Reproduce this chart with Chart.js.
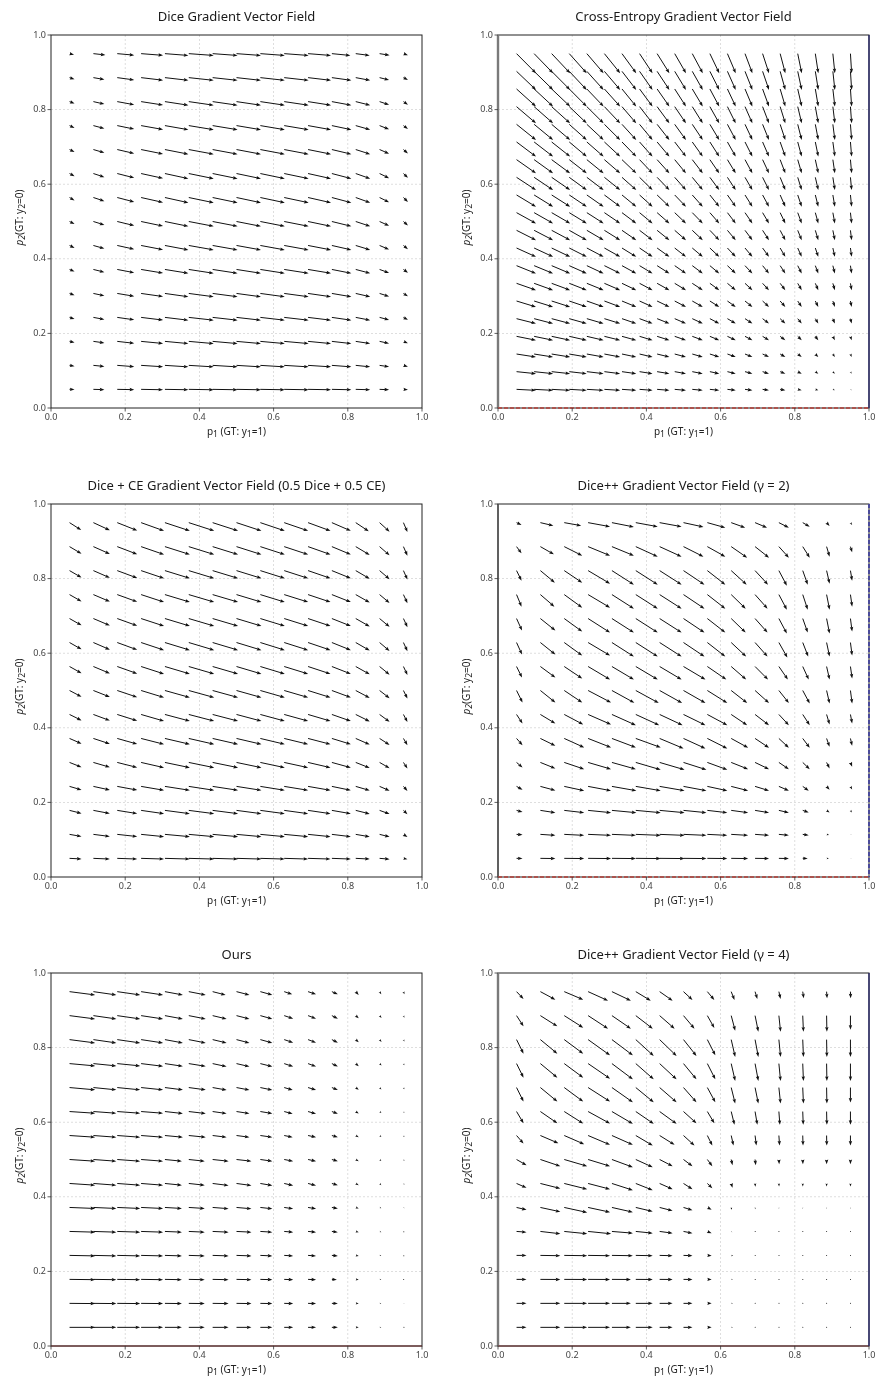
<!DOCTYPE html>
<html><head><meta charset="utf-8">
<script src="https://cdn.jsdelivr.net/npm/chart.js@4.4.0/dist/chart.umd.min.js"></script>
<style>
body{margin:0;background:#fff;width:880px;height:1382px;position:relative;overflow:hidden}
.p{position:absolute}
</style></head><body>
<div class="p" style="left:0;top:0;width:440px;height:444px"><canvas id="c1"></canvas></div>
<div class="p" style="left:447px;top:0;width:433px;height:444px"><canvas id="c2"></canvas></div>
<div class="p" style="left:0;top:469px;width:440px;height:444px"><canvas id="c3"></canvas></div>
<div class="p" style="left:447px;top:469px;width:433px;height:444px"><canvas id="c4"></canvas></div>
<div class="p" style="left:0;top:938px;width:440px;height:444px"><canvas id="c5"></canvas></div>
<div class="p" style="left:447px;top:938px;width:433px;height:444px"><canvas id="c6"></canvas></div>
<script>
// ---------- DATA ----------
const axisTicks = [0, 0.2, 0.4, 0.6, 0.8, 1.0];
const titles = [
  "Dice Gradient Vector Field",
  "Cross-Entropy Gradient Vector Field",
  "Dice + CE Gradient Vector Field (0.5 Dice + 0.5 CE)",
  "Dice++ Gradient Vector Field (\u03b3 = 2)",
  "Ours",
  "Dice++ Gradient Vector Field (\u03b3 = 4)"
];
const xLabel = [["p",0,0],["1",1,0],[" (GT: y",0,0],["1",1,0],["=1)",0,0]];
const yLabel = [["p",0,1],["2",1,1],["(GT: y",0,0],["2",1,0],["=0)",0,0]];

// grid positions (p1 along x, p2 along y)
const grid15 = [0.05,0.1143,0.1786,0.2429,0.3071,0.3714,0.4357,0.5,0.5643,0.6286,0.6929,0.7571,0.8214,0.8857,0.95];
const grid20 = [0.05,0.0974,0.1447,0.1921,0.2395,0.2868,0.3342,0.3816,0.4289,0.4763,0.5237,0.5711,0.6184,0.6658,0.7132,0.7605,0.8079,0.8553,0.9026,0.95];

// vector components (rows: p2 from bottom to top, columns: p1 left to right)
const diceU = [
 [5,11,17,22,23.5,25,25,24.5,24.5,24.5,23,19.5,14.5,9.5,4.5],
 [5,11,17,22,23.5,25,25,24.5,24.5,24.5,23,19.5,14.5,9.5,4.5],
 [5,11,17,22,23.5,25,25,24.5,24.5,24.5,23,19.5,14.5,9.5,4.5],
 [5,11,17,22,23.5,25,25,24.5,24.5,24.5,23,19.5,14.5,9.5,4.5],
 [5,11,17,22,23.5,25,25,24.5,24.5,24.5,23,19.5,14.5,9.5,4.5],
 [5,11,17,22,23.5,25,25,24.5,24.5,24.5,23,19.5,14.5,9.5,4.5],
 [5,11,17,22,23.5,25,25,24.5,24.5,24.5,23,19.5,14.5,9.5,4.5],
 [5,11,17,22,23.5,25,25,24.5,24.5,24.5,23,19.5,14.5,9.5,4.5],
 [5,11,17,22,23.5,25,25,24.5,24.5,24.5,23,19.5,14.5,9.5,4.5],
 [5,11,17,22,23.5,25,25,24.5,24.5,24.5,23,19.5,14.5,9.5,4.5],
 [5,11,17,22,23.5,25,25,24.5,24.5,24.5,23,19.5,14.5,9.5,4.5],
 [5,11,17,22,23.5,25,25,24.5,24.5,24.5,23,19.5,14.5,9.5,4.5],
 [5,11,17,22,23.5,25,25,24.5,24.5,24.5,23,19.5,14.5,9.5,4.5],
 [5,11,17,22,23.5,25,25,24.5,24.5,24.5,23,19.5,14.5,9.5,4.5],
 [4.5,12,17,22,23.5,25,25,24.5,24.5,24.5,23,18.5,14,10,4.5]
];
const diceV = [
 [-0.2,-0.3,-0.3,-0.4,-0.4,-0.4,-0.4,-0.4,-0.4,-0.4,-0.4,-0.4,-0.4,-0.4,-0.3],
 [-0.8,-1.1,-1.3,-1.4,-1.5,-1.5,-1.5,-1.5,-1.5,-1.5,-1.5,-1.5,-1.5,-1.4,-1.3],
 [-1.2,-1.5,-1.9,-2.1,-2.2,-2.2,-2.2,-2.2,-2.2,-2.2,-2.2,-2.2,-2.2,-2,-1.9],
 [-1.5,-2,-2.4,-2.7,-2.8,-2.8,-2.8,-2.8,-2.8,-2.8,-2.8,-2.8,-2.8,-2.5,-2.4],
 [-1.8,-2.3,-2.8,-3.1,-3.3,-3.3,-3.3,-3.3,-3.3,-3.3,-3.3,-3.3,-3.3,-3,-2.8],
 [-2.1,-2.7,-3.2,-3.6,-3.8,-3.8,-3.8,-3.8,-3.8,-3.8,-3.8,-3.8,-3.8,-3.4,-3.2],
 [-2.4,-3.1,-3.7,-4.2,-4.4,-4.4,-4.4,-4.4,-4.4,-4.4,-4.4,-4.4,-4.4,-4,-3.7],
 [-2.6,-3.4,-4.1,-4.6,-4.8,-4.8,-4.8,-4.8,-4.8,-4.8,-4.8,-4.8,-4.8,-4.3,-4.1],
 [-2.9,-3.6,-4.4,-4.9,-5.2,-5.2,-5.2,-5.2,-5.2,-5.2,-5.2,-5.2,-5.2,-4.7,-4.4],
 [-2.8,-3.6,-4.3,-4.8,-5.1,-5.1,-5.1,-5.1,-5.1,-5.1,-5.1,-5.1,-5.1,-4.6,-4.3],
 [-2.5,-3.2,-3.9,-4.4,-4.6,-4.6,-4.6,-4.6,-4.6,-4.6,-4.6,-4.6,-4.6,-4.1,-3.9],
 [-2.3,-2.9,-3.5,-3.9,-4.1,-4.1,-4.1,-4.1,-4.1,-4.1,-4.1,-4.1,-4.1,-3.7,-3.5],
 [-2,-2.5,-3.1,-3.4,-3.6,-3.6,-3.6,-3.6,-3.6,-3.6,-3.6,-3.6,-3.6,-3.2,-3.1],
 [-1.5,-1.9,-2.3,-2.6,-2.7,-2.7,-2.7,-2.7,-2.7,-2.7,-2.7,-2.7,-2.7,-2.4,-2.3],
 [-1,-1.3,-1.5,-1.7,-1.8,-1.8,-1.8,-1.8,-1.8,-1.8,-1.8,-1.8,-1.8,-1.6,-1.5]
];
// Cross-entropy: horizontal part read per column, vertical part read per row
const ceU = [19.5,19,18.5,17.5,16.8,15.8,14.3,13,12.3,11.3,10.5,9.4,8.3,7.4,6.4,5.2,4,3,2,1.2];
const ceV = [-1,-2,-3,-3.9,-4.9,-5.9,-6.8,-7.8,-8.8,-9.8,-10.7,-11.7,-12.7,-13.6,-14.6,-15.6,-16.6,-17.5,-18.5,-19.5];

const mixU = [
 [12,16.5,20,23,25,25.5,25.5,25,24.5,24,22.5,19,14,10,4],
 [12,16.5,20,23,25,25.5,25.5,25,24.5,24,22.5,19,14,10,4],
 [12,16.5,20,23,25,25.5,25.5,25,24.5,24,22.5,19,14,10,4],
 [12,16.5,20,23,25,25.5,25.5,25,24.5,24,22.5,19,14,10,4],
 [12,16.5,20,23,25,25.5,25.5,25,24.5,24,22.5,19,14,10,4],
 [12,16.5,20,23,25,25.5,25.5,25,24.5,24,22.5,19,14,10,4],
 [12,16.5,20,23,25,25.5,25.5,25,24.5,24,22.5,19,14,10,4],
 [12,16.5,20,23,25,25.5,25.5,25,24.5,24,22.5,19,14,10,4],
 [12,16.5,20,23,25,25.5,25.5,25,24.5,24,22.5,19,14,10,4],
 [12,16.5,20,23,25,25.5,25.5,25,24.5,24,22.5,19,14,10,4],
 [12,16.5,20,23,25,25.5,25.5,25,24.5,24,22.5,19,14,10,4],
 [12,16.5,20,23,25,25.5,25.5,25,24.5,24,22.5,19,14,10,4],
 [12,16.5,20,23,25,25.5,25.5,25,24.5,24,22.5,19,14,10,4],
 [12,16.5,20,23,25,25.5,25.5,25,24.5,24,22.5,19,14,10,4],
 [11.7,16.5,20,23,25,25.5,25.5,25,24.5,24,22.5,19,13,10,4]
];
const mixV = [
 [-0.6,-0.7,-0.7,-0.7,-0.7,-0.7,-0.7,-0.7,-0.7,-0.7,-0.7,-0.7,-0.7,-0.8,-0.8],
 [-2.1,-2.1,-2.2,-2.3,-2.3,-2.3,-2.3,-2.3,-2.3,-2.3,-2.3,-2.3,-2.4,-2.5,-2.6],
 [-3,-3.1,-3.2,-3.3,-3.3,-3.3,-3.3,-3.3,-3.3,-3.3,-3.3,-3.3,-3.5,-3.6,-3.8],
 [-3.5,-3.6,-3.7,-3.9,-3.9,-3.9,-3.9,-3.9,-3.9,-3.9,-3.9,-3.9,-4.1,-4.3,-4.5],
 [-4.7,-4.8,-5,-5.2,-5.2,-5.2,-5.2,-5.2,-5.2,-5.2,-5.2,-5.2,-5.5,-5.7,-6],
 [-5.2,-5.4,-5.6,-5.8,-5.8,-5.8,-5.8,-5.8,-5.8,-5.8,-5.8,-5.8,-6.1,-6.4,-6.7],
 [-5.9,-6.1,-6.3,-6.6,-6.6,-6.6,-6.6,-6.6,-6.6,-6.6,-6.6,-6.6,-6.9,-7.3,-7.6],
 [-6.3,-6.5,-6.7,-7,-7,-7,-7,-7,-7,-7,-7,-7,-7.4,-7.7,-8.1],
 [-6.7,-6.9,-7.1,-7.4,-7.4,-7.4,-7.4,-7.4,-7.4,-7.4,-7.4,-7.4,-7.8,-8.1,-8.5],
 [-6.8,-7.1,-7.3,-7.6,-7.6,-7.6,-7.6,-7.6,-7.6,-7.6,-7.6,-7.6,-8,-8.4,-8.7],
 [-6.8,-7,-7.2,-7.5,-7.5,-7.5,-7.5,-7.5,-7.5,-7.5,-7.5,-7.5,-7.9,-8.3,-8.6],
 [-6.8,-7,-7.2,-7.5,-7.5,-7.5,-7.5,-7.5,-7.5,-7.5,-7.5,-7.5,-7.9,-8.3,-8.6],
 [-6.9,-7.2,-7.4,-7.7,-7.7,-7.7,-7.7,-7.7,-7.7,-7.7,-7.7,-7.7,-8.1,-8.5,-8.9],
 [-7.1,-7.3,-7.6,-7.9,-7.9,-7.9,-7.9,-7.9,-7.9,-7.9,-7.9,-7.9,-8.3,-8.7,-9.1],
 [-7.4,-7.6,-7.9,-8.2,-8.2,-8.2,-8.2,-8.2,-8.2,-8.2,-8.2,-8.2,-8.6,-9,-9.4]
];
const dpp2U = [
 [6,15,20,23,24,25,25,23,20,17,14,10,5,2.3,1],
 [6,15,20,23,24,25,25,23,20,17,14,10,6,2.5,1],
 [6,15,20,23,24.5,25,25,23,20,17,14,10,6,3,1.5],
 [6,15,20,23,24.5,25,25,23,20,17,14,10,6,3,1.7],
 [6,15,20,23,24,25,25,23,20,17,14,10,7,3,1.7],
 [6,15,20,23,24,25,24,22,20,17,14,10,7,3,1.7],
 [6,15,19,23,24,23.5,23,22,20,16,14,10,7,3,1.7],
 [6,15,18,23,22.5,23,22.5,22,20,16,14,10,7,3,1.7],
 [5.5,15,18,22,22,22,22,22,19,15,13,9,6,3,1.7],
 [5.5,15,18,22,22,22,22,21,18,15,12.5,8.5,5.5,3,1.7],
 [5.5,15,18,22,22,22,22,21,18,14.5,12.5,8,5,3,1.7],
 [5,14,18,22,22,22,22,21,18,14.5,12.5,8,5,3,1.7],
 [5,14.5,18,22,22,22,22,21,18,15.5,13,8,5,3,1.7],
 [5,13.5,18,22,22,22,22,20,18,16,14,10,7,3,1.7],
 [5,13,17,22,22,22,22,20,18,14,12,10,7,3,1.7]
];
const dpp2V = [
 [-0.1,-0.2,-0.2,-0.2,-0.2,-0.2,-0.2,-0.2,-0.2,-0.2,-0.2,-0.2,-0.2,-0.1,-0.1],
 [-0.5,-1,-1,-1,-1,-1,-1,-1,-1,-1,-1,-1,-1,-0.7,-0.5],
 [-1.7,-2.3,-2.3,-2.3,-2.3,-2.3,-2.3,-2.3,-2.3,-2.3,-2.3,-2.3,-2,-2,-2],
 [-3.3,-4,-4.3,-4.3,-4.3,-4.3,-4.3,-4.3,-4.3,-4.3,-4.3,-4.3,-4.3,-3.3,-3],
 [-5,-6,-6.7,-6.7,-6.7,-7.3,-7.3,-7.3,-7.3,-6.7,-6.7,-6.7,-6.7,-6,-4.3],
 [-6.7,-7.3,-9,-9,-9,-9,-10,-10,-10,-9.3,-9.3,-9.3,-9.3,-8.3,-7.3],
 [-9,-9,-10,-10,-10.7,-10.7,-10.7,-10.7,-10.7,-10.7,-10.7,-10.7,-10.7,-10,-9],
 [-12,-12,-12,-12,-12.3,-12.5,-12.5,-12.5,-12.5,-12.5,-12.5,-12.5,-13,-13,-13],
 [-11,-11,-12,-13,-13,-13,-13,-13,-13,-13,-13,-13,-13,-13,-12],
 [-12,-12,-13,-13,-14,-14,-14,-14,-14,-14,-14,-15,-14,-14,-13],
 [-12,-12,-13,-14,-14,-14,-14,-14,-14,-14,-14,-15,-14,-15,-13],
 [-12,-12,-13,-13,-14,-14,-14,-14,-14,-14,-14,-15,-15,-15,-12],
 [-10,-12,-12,-13,-14,-14,-14,-14,-14,-14,-14,-15,-14,-13,-10],
 [-6.7,-7.7,-9,-9,-9,-10,-10,-10,-10,-11,-11,-11,-11,-10,-5.7],
 [-2.3,-3,-3,-4,-4.3,-4,-4,-4.3,-5,-5,-5,-5,-4,-3.3,-2.3]
];
const oursU = [
 [25.7,23,23,22,17,16,16,15,12,9,8,6,3,1.7,1],
 [25.7,23,23,22,17,16,16,15,12,9,8,6,3,1.7,1],
 [25.7,23,23,22,17,16,16,15,12,9,8,5,3,1.7,0.5],
 [25.7,23,23,22,17,16,16,15,12,9,8,6,3,1.7,0.7],
 [25.7,23,23,22,17,16,16,15,12,9,8,6,3,1.7,0.7],
 [25.7,23,23,22,17,16,16,15,12,9,8,6,3,1.7,1],
 [25.7,23,23,22,17,16,16,15,12,9,8,6,3,1.7,1],
 [25.7,23,23,22,17,16,16,15,12,9,8,6,3,1.7,1],
 [25.7,23,23,22,18,17,14,13,12,8.5,8,6,3,1.8,1],
 [25.7,23,23,22,18,17,14,13,12,8.5,8,6,3,1.8,1],
 [25.7,23,23,22,18,17,14,13,12,8.5,8,6,3,1.8,1],
 [25.7,23,23,22,18,17,14,13,12,9,8,6,3,2,1],
 [25.7,23,23,22,18,17,14,13,12,9,8,6,3,2,1],
 [25.7,23,23,22,18,17,14,13,12,9,8,6,3,2,1],
 [25.7,23,23,22,18,17,13,13,12,8,8,6,3,1.7,1]
];
const oursV = [
 [0,0,0,0,0,0,0,0,0,0,0,0,0,0,0],
 [-0.2,-0.2,-0.2,-0.2,-0.2,-0.2,-0.2,-0.2,-0.2,-0.2,-0.2,-0.2,-0.2,-0.2,-0.2],
 [-0.3,-0.3,-0.3,-0.3,-0.3,-0.3,-0.3,-0.3,-0.3,-0.3,-0.3,-0.3,-0.3,-0.3,-0.3],
 [-0.5,-0.5,-0.5,-0.5,-0.5,-0.5,-0.5,-0.5,-0.5,-0.5,-0.5,-0.5,-0.5,-0.5,-0.5],
 [-0.7,-0.7,-0.7,-0.7,-0.7,-0.7,-0.7,-0.7,-0.7,-0.7,-0.7,-0.7,-0.7,-0.7,-0.7],
 [-1,-1,-1,-1,-1,-1,-1.2,-1.3,-1.3,-1.3,-1.3,-1,-1,-0.8,-0.7],
 [-1.7,-1.7,-1.7,-1.7,-1.7,-1.7,-2,-2,-2,-2,-2,-1.7,-1.7,-1.7,-1.3],
 [-1.7,-1.7,-1.7,-1.7,-1.7,-1.7,-1.7,-1.7,-1.7,-1.7,-1.7,-1.7,-1.7,-1.4,-1.4],
 [-1.7,-1.7,-1.7,-1.7,-1.7,-1.7,-1.7,-1.7,-1.7,-1.7,-1.7,-1.7,-1.7,-1.4,-1.4],
 [-1.7,-1.7,-1.7,-1.7,-2,-2,-2,-2,-2,-2.3,-2.3,-2.3,-2,-1.5,-1.3],
 [-2.3,-2.3,-2.3,-2.3,-2.3,-2.3,-2.5,-2.5,-2.5,-2.5,-2.5,-2.5,-2.3,-1.9,-1.7],
 [-2.3,-2.3,-2.3,-2.7,-2.7,-2.7,-3,-3,-3,-3,-3,-3,-2.7,-2,-1.7],
 [-3.3,-3.3,-3.3,-3.3,-3.3,-3.3,-3.3,-3.3,-3.3,-3,-3,-3,-2.7,-2.3,-2],
 [-3.3,-3.3,-3.3,-3.3,-3.3,-3.3,-3.3,-3.3,-3.3,-3,-3,-3,-2.7,-2.3,-2],
 [-3.3,-3.3,-3.3,-3.3,-3.3,-3.3,-3.3,-3.3,-3.3,-2.7,-2.7,-2.7,-3.3,-2.7,-2.7]
];
const dpp4U = [
 [10,20,23,22,19,17,13,9,4.3,1.7,0.3,0.2,0.1,0.1,0.1],
 [10,20,23,22,19,17,13,9,4.3,1.7,0.3,0.2,0.1,0.1,0.1],
 [10,20,23,22,19,17,13,9,4.3,1.7,0.3,0.2,0.1,0.1,0.1],
 [10,20,23,22,21,17,13,9,4.3,2,0.3,0.2,0.1,0.1,0.1],
 [10,20,23,23,21,17,13,9,4.3,1,0.3,0.1,0.1,0.1,0.1],
 [10,20,23,22,21,17,13,9,4.3,0.7,0.3,0.1,0,0,0],
 [10,20,23,22,21,17,13,9,5,1.3,0.3,0.2,0.1,0,0],
 [10,20,23,22,21,17,13,9,5,1.3,0.7,0.3,0.2,0.1,0],
 [7,18,20,22,21,17,15,11,5,2.3,1.3,0.7,0.3,0.2,0],
 [7,17,19,22,21,18,17,13,7,3.3,2.3,1,0.5,0.3,0],
 [7,17,19,22,21,18,17,13,8,4,3.3,1.7,0.7,0.3,0],
 [7,17,19,22,21,18,17,13,8,4,3.3,1.7,0.7,0.3,0],
 [7,17,19,22,21,18,17,13,8,4,3.3,1.7,0.7,0.3,0],
 [7,17,19,20,19,17,15,11,7,4,3.3,1.7,0.7,0.3,0],
 [7,15,19,20,19,15,13,9,7,3.3,2.3,1.7,1,0.5,0.2]
];
const dpp4V = [
 [0,0,0,0,0,0,0,0,0,0,0,0,0,0,0],
 [0,0,0,0,0,0,0,0,0,0,0,0,0,0,0],
 [0,-0.1,-0.1,-0.1,-0.1,-0.1,-0.1,-0.1,-0.1,-0.1,-0.1,-0.1,-0.1,-0.1,-0.1],
 [0,-0.3,-0.3,-0.3,-0.3,-0.3,-0.3,-0.3,-0.3,-0.3,-0.3,-0.3,-0.3,-0.3,-0.3],
 [-0.7,-2.3,-2.3,-2.3,-1.7,-1.7,-1.7,-1.7,-1.7,-0.7,-0.3,-0.2,-0.2,-0.2,-0.2],
 [-2.3,-4.3,-5,-4.7,-4.7,-4,-3.3,-2.7,-2.3,-2.3,-1.7,-1.3,-1.3,-1.3,-1.3],
 [-4.3,-5,-5.7,-5.7,-6.7,-6.7,-5.7,-5.7,-4.7,-4.3,-3.3,-3,-3,-3,-3],
 [-5.7,-6.7,-6.7,-6.7,-7.7,-7.7,-6.7,-6.7,-6.7,-5.7,-5.7,-4.7,-4.7,-4.7,-4.7],
 [-8,-7.7,-8.7,-9.3,-9.3,-10,-9.3,-10,-10,-10,-10,-10,-10,-10,-10],
 [-11.7,-11.7,-12,-12,-12.3,-12.3,-12.3,-11.7,-11.7,-13.3,-13.3,-13.3,-13.3,-13.3,-13.3],
 [-14,-14,-14,-14,-14.7,-14.7,-14.7,-14.7,-14.7,-16,-16,-16,-16,-16,-15],
 [-14,-14,-14,-15,-15.7,-15.7,-15.7,-15.7,-15.7,-17.3,-17.3,-17.3,-17.3,-17.3,-17.3],
 [-14,-14,-14,-15.7,-15.7,-16.3,-16.3,-16.3,-15.7,-17.3,-17.3,-17.3,-17.3,-17.3,-17.3],
 [-10.7,-10.7,-12,-13,-13,-13,-13,-13,-12.3,-15,-16,-16,-16,-16,-14],
 [-7.3,-8,-8,-9,-9,-9,-9,-8.3,-8.3,-8.3,-7.3,-7.3,-6.7,-6.7,-6.7]
];

// ---------- RENDERING ----------
Chart.defaults.font.family = "'Noto Sans', 'Open Sans', sans-serif";

function buildPoints(grid, U, V) {
  const pts = [];
  grid.forEach((py, r) => grid.forEach((px, c) => pts.push({x: px, y: py, u: U[r][c], v: V[r][c]})));
  return pts;
}
const ceU2 = grid20.map(() => ceU);
const ceV2 = ceV.map(v => grid20.map(() => v));

function richText(ctx, segs, cx, cy, size) {
  const fnt = s => (s[2] ? 'italic ' : '') + (s[1] ? size * 0.86 : size) + "px 'Noto Sans'";
  let w = 0;
  for (const s of segs) { ctx.font = fnt(s); w += ctx.measureText(s[0]).width; }
  let x = cx - w / 2;
  ctx.textAlign = 'left'; ctx.textBaseline = 'middle';
  for (const s of segs) {
    ctx.font = fnt(s);
    ctx.fillText(s[0], x, cy + (s[1] ? size * 0.25 : 0));
    x += ctx.measureText(s[0]).width;
  }
}

const quiverPlugin = {
  id: 'quiver',
  beforeDatasetsDraw(chart, args, o) {
    const {ctx, chartArea: a, scales: {x, y}} = chart;
    ctx.save();
    ctx.strokeStyle = '#d6d6d6'; ctx.lineWidth = 0.8; ctx.setLineDash([2, 2]);
    for (const t of x.ticks) {
      if (t.value > 0.001 && t.value < 0.999) {
        const p = x.getPixelForValue(t.value);
        ctx.beginPath(); ctx.moveTo(p, a.top); ctx.lineTo(p, a.bottom); ctx.stroke();
      }
    }
    for (const t of y.ticks) {
      if (t.value > 0.001 && t.value < 0.999) {
        const p = y.getPixelForValue(t.value);
        ctx.beginPath(); ctx.moveTo(a.left, p); ctx.lineTo(a.right, p); ctx.stroke();
      }
    }
    ctx.restore();
  },
  afterDatasetsDraw(chart, args, o) {
    const {ctx, chartArea: a, scales: {x, y}} = chart;
    const pts = chart.data.datasets[0].data;
    ctx.save();
    ctx.beginPath(); ctx.rect(a.left, a.top, a.right - a.left, a.bottom - a.top); ctx.clip();
    ctx.fillStyle = o.color; ctx.strokeStyle = o.color; ctx.lineCap = 'butt';
    for (const d of pts) {
      const x0 = x.getPixelForValue(d.x), y0 = y.getPixelForValue(d.y);
      const x1 = x.getPixelForValue(d.x + d.u / o.scale), y1 = y.getPixelForValue(d.y + d.v / o.scale);
      const dx = x1 - x0, dy = y1 - y0, L = Math.hypot(dx, dy);
      if (L < 1) {
        ctx.beginPath(); ctx.arc(x0 + dx / 2, y0 + dy / 2, 0.5, 0, 2 * Math.PI); ctx.fill();
        continue;
      }
      const ux = dx / L, uy = dy / L;
      const k = Math.min(1, L / o.headLength);
      const hl = o.headLength * k, hw = o.headWidth * k;
      const bx = x1 - ux * hl, by = y1 - uy * hl;
      if (L > hl + 0.3) {
        ctx.lineWidth = o.shaftWidth;
        ctx.beginPath(); ctx.moveTo(x0, y0); ctx.lineTo(bx + ux * 0.8, by + uy * 0.8); ctx.stroke();
      }
      ctx.beginPath();
      ctx.moveTo(x1, y1);
      ctx.lineTo(bx - uy * hw, by + ux * hw);
      ctx.lineTo(bx + ux * 0.6, by + uy * 0.6);
      ctx.lineTo(bx + uy * hw, by - ux * hw);
      ctx.closePath(); ctx.fill();
    }
    ctx.restore();

    // frame and tick marks
    ctx.save();
    ctx.strokeStyle = '#222'; ctx.lineWidth = 1;
    ctx.strokeRect(a.left, a.top, a.right - a.left, a.bottom - a.top);
    for (const e of (o.edges || [])) {
      ctx.save();
      ctx.strokeStyle = e.color; ctx.lineWidth = e.width; ctx.setLineDash(e.dash || []);
      ctx.beginPath();
      if (e.side === 'bottom') { ctx.moveTo(a.left, a.bottom); ctx.lineTo(a.right, a.bottom); }
      if (e.side === 'right') { ctx.moveTo(a.right, a.top); ctx.lineTo(a.right, a.bottom); }
      if (e.side === 'left') { ctx.moveTo(a.left, a.top); ctx.lineTo(a.left, a.bottom); }
      ctx.stroke();
      ctx.restore();
    }
    ctx.strokeStyle = '#333'; ctx.lineWidth = 0.8;
    for (const t of x.ticks) {
      const p = x.getPixelForValue(t.value);
      ctx.beginPath(); ctx.moveTo(p, a.bottom); ctx.lineTo(p, a.bottom + 3.5); ctx.stroke();
    }
    for (const t of y.ticks) {
      const p = y.getPixelForValue(t.value);
      ctx.beginPath(); ctx.moveTo(a.left - 3.5, p); ctx.lineTo(a.left, p); ctx.stroke();
    }
    ctx.restore();
  },
  afterDraw(chart, args, o) {
    const {ctx, chartArea: a} = chart;
    ctx.save();
    ctx.fillStyle = '#1a1a1a';
    ctx.font = "13px 'Noto Sans'"; ctx.textAlign = 'center'; ctx.textBaseline = 'middle';
    ctx.fillText(o.title, (a.left + a.right) / 2, a.top - 18);
    ctx.fillStyle = '#222';
    richText(ctx, xLabel, (a.left + a.right) / 2, a.bottom + 24, 10);
    ctx.translate(a.left - 31, (a.top + a.bottom) / 2 - 4);
    ctx.rotate(-Math.PI / 2);
    richText(ctx, yLabel, 0, 0, 10);
    ctx.restore();
  }
};

function makeChart(id, title, pts, padRight, edges) {
  const tickOpts = {font: {size: 9}, color: '#444', callback: v => Number(v).toFixed(1), autoSkip: false, maxRotation: 0};
  new Chart(document.getElementById(id), {
    type: 'scatter',
    data: {datasets: [{data: pts, pointRadius: 0, pointHoverRadius: 0, showLine: false}]},
    options: {
      responsive: true, maintainAspectRatio: false, animation: false, events: [],
      layout: {padding: {top: 35, right: padRight, left: 0, bottom: 0}},
      plugins: {
        legend: {display: false}, tooltip: {enabled: false}, title: {display: false},
        quiver: {title: title, scale: 372, color: '#111', headLength: 4.6, headWidth: 1.7, shaftWidth: 1, edges: edges}
      },
      scales: {
        x: {type: 'linear', min: 0, max: 1, grid: {display: false, drawTicks: false}, border: {display: false},
            afterBuildTicks: s => { s.ticks = axisTicks.map(v => ({value: v})); },
            afterFit: s => { s.height = 36; },
            ticks: Object.assign({padding: 4}, tickOpts)},
        y: {type: 'linear', min: 0, max: 1, grid: {display: false, drawTicks: false}, border: {display: false},
            afterBuildTicks: s => { s.ticks = axisTicks.map(v => ({value: v})); },
            afterFit: s => { s.width = 51; },
            ticks: Object.assign({padding: 5}, tickOpts)}
      }
    },
    plugins: [quiverPlugin]
  });
}

const redDash = {side: 'bottom', color: '#b5403a', width: 1.4, dash: [4, 2]};
makeChart('c1', titles[0], buildPoints(grid15, diceU, diceV), 18, []);
makeChart('c2', titles[1], buildPoints(grid20, ceU2, ceV2), 11, [
  {side: 'left', color: '#7a7a7a', width: 2.4}, redDash, {side: 'right', color: '#2a2a6a', width: 1.4}]);
makeChart('c3', titles[2], buildPoints(grid15, mixU, mixV), 18, []);
makeChart('c4', titles[3], buildPoints(grid15, dpp2U, dpp2V), 11, [
  {side: 'left', color: '#555', width: 1.6}, redDash, {side: 'right', color: '#4a4a9a', width: 2, dash: [4, 2]}]);
makeChart('c5', titles[4], buildPoints(grid15, oursU, oursV), 18, [
  {side: 'bottom', color: '#6a2a2a', width: 1.2}]);
makeChart('c6', titles[5], buildPoints(grid15, dpp4U, dpp4V), 11, [
  {side: 'left', color: '#7a7a7a', width: 2.4}, {side: 'bottom', color: '#6a2a2a', width: 1.2}, {side: 'right', color: '#2a2a6a', width: 1.4}]);
</script>
</body></html>
